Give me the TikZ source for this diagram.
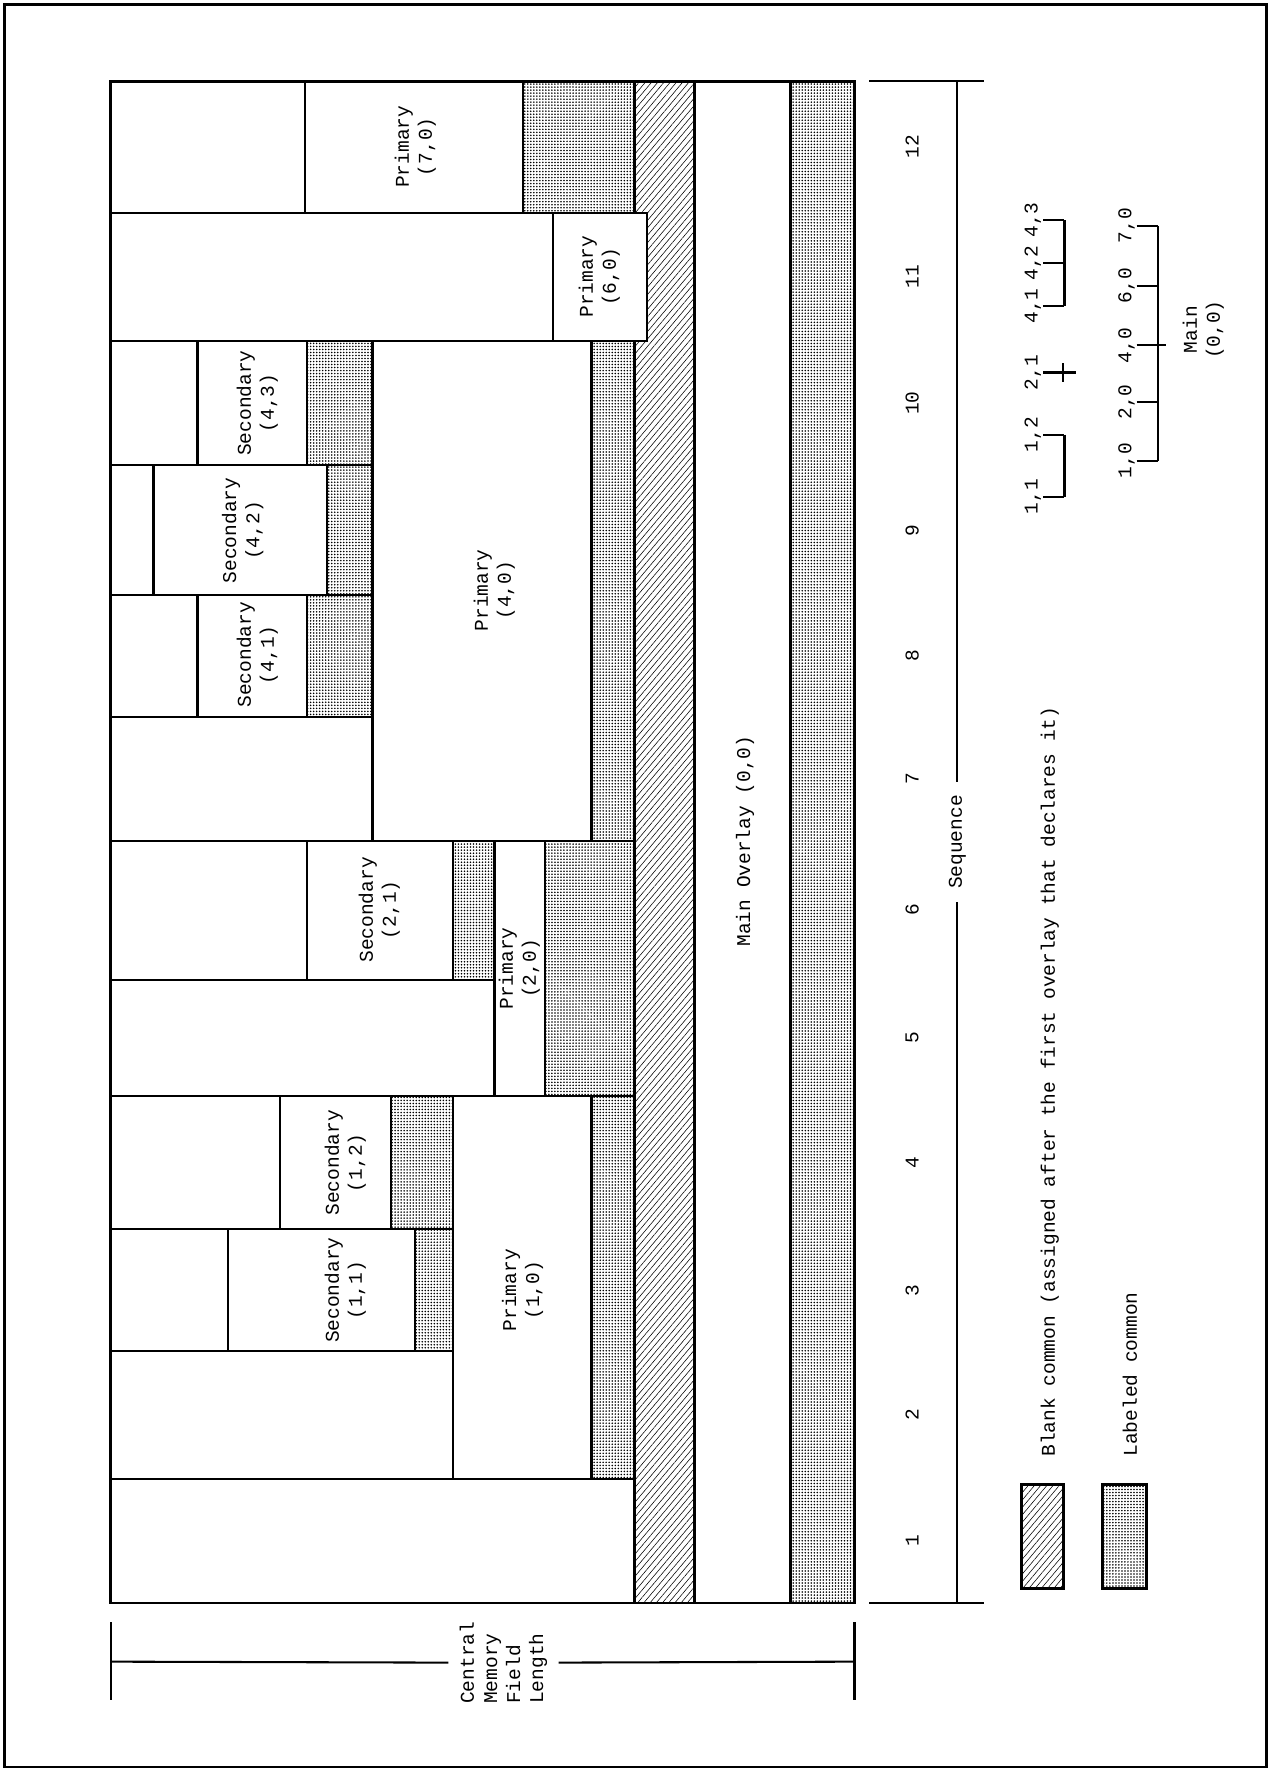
\documentclass[tikz,border=0pt]{standalone}
\usepackage{fontspec}
\setmainfont{Liberation Mono}
\usetikzlibrary{patterns,patterns.meta,positioning}

\begin{document}
\begin{tikzpicture}[x=0.025cm, y=-0.025cm,
  every node/.style={font=\fontsize{12.3}{14.5}\selectfont},
  lbl/.style={rotate=90, align=center, inner sep=1pt},
  box/.style={draw, line width=1.35pt, fill=white},
  blank/.style={draw, line width=1.8pt, pattern={Lines[angle=50,distance=3pt,line width=0.35pt]}},
  labeled/.style={draw, line width=1.35pt, pattern={Dots[distance=1.9pt,radius=0.55pt]}},
  rule/.style={line width=1.3pt}]
  \fill[white] (0,0) rectangle (1124,1568);
  \useasboundingbox (0,0) rectangle (1124,1568);
  \draw[line width=1.4pt] (4,4) rectangle (1122,1565);

  % Common strips and main overlay
  \draw[blank] (562,72) rectangle (615,1420);
  \draw[box, line width=1.8pt] (615,72) rectangle (700,1420);
  \draw[labeled, line width=1.8pt] (700,72) rectangle (757,1420);
  \node[lbl] (mainov) at (660,745) {Main Overlay (0,0)};

  % Sequence 12
  \draw[box] (98,72) rectangle (270,189);
  \draw[box] (270,72) rectangle (463,189);
  \draw[labeled] (463,72) rectangle (562,189);
  \node[lbl] (p70) at (368,130) {Primary\\(7,0)};

  % Sequence 11
  \draw[box] (98,189) rectangle (490,302);
  \draw[box] (490,189) rectangle (573,302);
  \node[lbl] (p60) at (531,245) {Primary\\(6,0)};

  % Primary (4,0): sequences 7-10
  \draw[box] (330,302) rectangle (524,745);
  \draw[labeled] (524,302) rectangle (562,745);
  \node[lbl] (p40) at (438,523) {Primary\\(4,0)};

  \draw[box] (98,302) rectangle (175,412);
  \draw[box] (175,302) rectangle (272,412);
  \draw[labeled] (272,302) rectangle (330,412);
  \node[lbl] (s43) at (228,357) {Secondary\\(4,3)};

  \draw[box] (98,412) rectangle (136,527);
  \draw[box] (136,412) rectangle (290,527);
  \draw[labeled] (290,412) rectangle (330,527);
  \node[lbl] (s42) at (215,470) {Secondary\\(4,2)};

  \draw[box] (98,527) rectangle (175,635);
  \draw[box] (175,527) rectangle (272,635);
  \draw[labeled] (272,527) rectangle (330,635);
  \node[lbl] (s41) at (228,580) {Secondary\\(4,1)};

  \draw[box] (98,635) rectangle (330,745);

  % Primary (2,0): sequences 5-6
  \draw[box] (438,745) rectangle (483,971);
  \draw[labeled] (483,745) rectangle (562,971);
  \node[lbl] (p20) at (460,858) {Primary\\(2,0)};

  \draw[box] (98,745) rectangle (272,868);
  \draw[box] (272,745) rectangle (401,868);
  \draw[labeled] (401,745) rectangle (438,868);
  \node[lbl] (s21) at (336,806) {Secondary\\(2,1)};

  \draw[box] (98,868) rectangle (438,971);

  % Primary (1,0): sequences 2-4
  \draw[box] (401,971) rectangle (524,1310);
  \draw[labeled] (524,971) rectangle (562,1310);
  \node[lbl] (p10) at (463,1143) {Primary\\(1,0)};

  \draw[box] (98,971) rectangle (248,1089);
  \draw[box] (248,971) rectangle (346,1089);
  \draw[labeled] (346,971) rectangle (401,1089);
  \node[lbl] (s12) at (306,1030) {Secondary\\(1,2)};

  \draw[box] (98,1089) rectangle (202,1197);
  \draw[box] (202,1089) rectangle (368,1197);
  \draw[labeled] (368,1089) rectangle (401,1197);
  \node[lbl] (s11) at (306,1143) {Secondary\\(1,1)};

  \draw[box] (98,1197) rectangle (401,1310);

  % Sequence 1
  \draw[box] (98,1310) rectangle (562,1420);

  % Outline
  \draw[line width=1.8pt] (98,72) rectangle (757,1420);

  % Sequence axis
  \foreach \n/\y in {1/1365, 2/1253, 3/1143, 4/1030, 5/919, 6/806, 7/690, 8/581, 9/470, 10/357, 11/245, 12/130}
    \node[lbl] (seq\n) at (808,\y) {\n};
  \coordinate (seqtop) at (848,72);
  \coordinate (seqbot) at (848,1420);
  \node[lbl, inner sep=8pt] (seqlab) at (848,746) {Sequence};
  \draw[rule] (770,72) -- (872,72);
  \draw[rule] (770,1420) -- (872,1420);
  \draw[rule] (seqtop) -- (seqlab);
  \draw[rule] (seqlab) -- (seqbot);

  % Central memory field length
  \coordinate (cmleft) at (98,1472);
  \coordinate (cmright) at (757,1472);
  \node[lbl, align=left, inner sep=7pt] (cmfl) at (446,1473) {Central\\Memory\\Field\\Length};
  \draw[rule] (98,1437) -- (98,1506);
  \draw[rule] (757,1437) -- (757,1506);
  \draw[rule] (cmleft) -- (cmfl);
  \draw[rule] (cmfl) -- (cmright);

  % Legend
  \draw[blank] (905,1315) rectangle (942,1407);
  \draw[labeled, line width=1.8pt] (977,1315) rectangle (1016,1407);
  \node[lbl, anchor=west] (legblank) at (930,1292) {Blank common (assigned after the first overlay that declares it)};
  \node[lbl, anchor=west] (leglab) at (1001,1292) {Labeled common};

  % Overlay tree
  \coordinate (lowspine) at (1026,0);
  \coordinate (upspine) at (943,0);
  \foreach \nm/\txt/\y in {70/{7,0}/200, 60/{6,0}/253, 40/{4,0}/306, 20/{2,0}/356, 10/{1,0}/408}{
    \node[lbl] (t\nm) at (998,\y) {\txt};
    \draw[rule] (t\nm.south) -- (t\nm.south -| lowspine);
  }
  \draw[rule] (t70.south -| lowspine) -- (t10.south -| lowspine);
  \coordinate (root) at (1033,306);
  \draw[rule] (t40.south -| lowspine) -- (root);
  \node[lbl] (mainnd) at (1066,292) {Main\\(0,0)};

  \foreach \nm/\txt/\y in {43/{4,3}/195, 42/{4,2}/233, 41/{4,1}/271, 12/{1,2}/385, 11/{1,1}/440}{
    \node[lbl] (t\nm) at (915,\y) {\txt};
    \draw[rule] (t\nm.south) -- (t\nm.south -| upspine);
  }
  \draw[rule] (t43.south -| upspine) -- (t41.south -| upspine);
  \draw[rule] (t12.south -| upspine) -- (t11.south -| upspine);
  \node[lbl] (t21) at (915,330) {2,1};
  \coordinate (tick21) at (953,330);
  \draw[rule] (t21.south) -- (tick21);
  \draw[rule] (942,322) -- (942,338);
\end{tikzpicture}
\end{document}
